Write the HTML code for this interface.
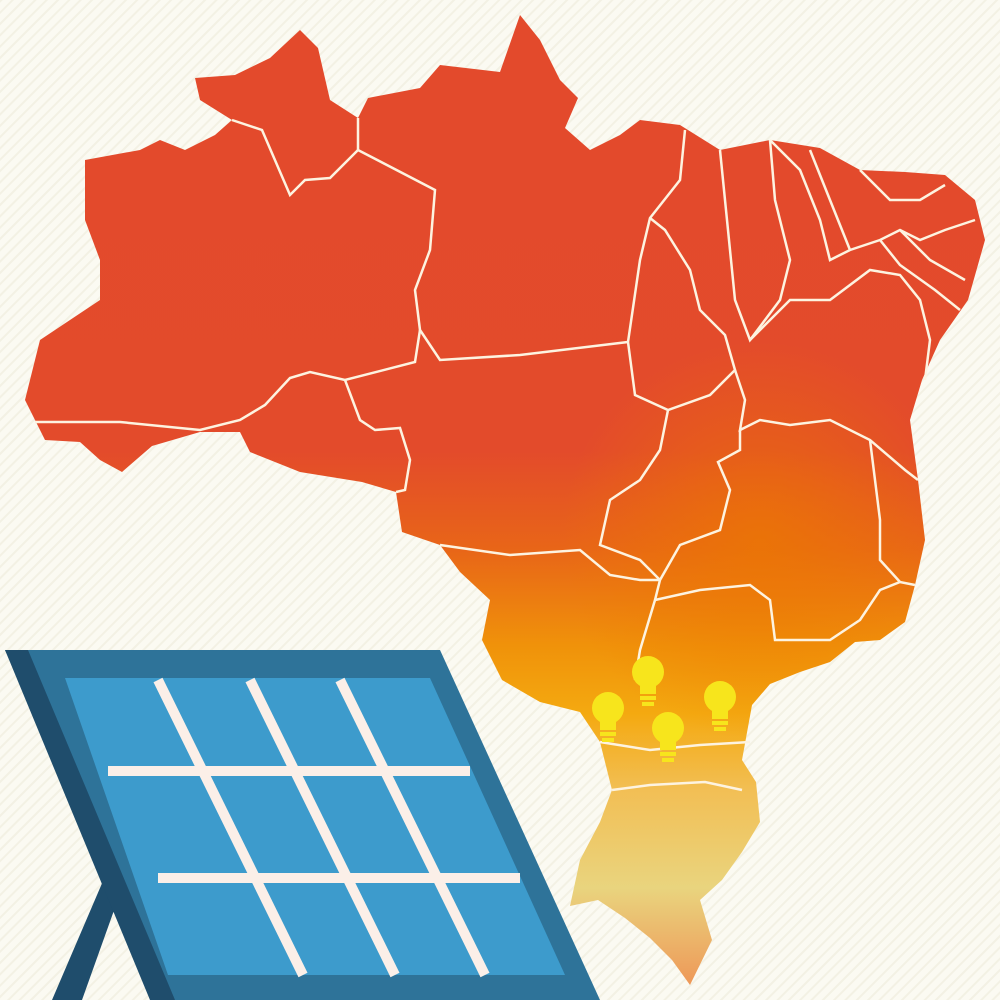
<!DOCTYPE html>
<html><head><meta charset="utf-8"><style>
html,body{margin:0;padding:0;width:1000px;height:1000px;overflow:hidden;background:#fbfaf2}
</style></head><body>
<svg width="1000" height="1000" viewBox="0 0 1000 1000">
<defs>
<pattern id="stripes" width="8" height="8" patternUnits="userSpaceOnUse" patternTransform="rotate(45)">
<rect width="8" height="8" fill="#fbfaf2"/><rect width="2" height="8" fill="#f3f1e4"/></pattern>
<linearGradient id="heat" x1="0" y1="0" x2="0" y2="1">
<stop offset="0" stop-color="#e34a2c"/><stop offset="0.45" stop-color="#e34b2b"/>
<stop offset="0.55" stop-color="#e86518"/><stop offset="0.65" stop-color="#f0920a"/>
<stop offset="0.72" stop-color="#f4a910"/><stop offset="0.8" stop-color="#f2bf55"/>
<stop offset="0.9" stop-color="#e9d47e"/><stop offset="1" stop-color="#ee9858"/></linearGradient>
<radialGradient id="glow" cx="760" cy="540" r="200" gradientUnits="userSpaceOnUse">
<stop offset="0" stop-color="#ec7a00" stop-opacity="0.7"/><stop offset="1" stop-color="#ec7a00" stop-opacity="0"/></radialGradient>
</defs>
<rect width="1000" height="1000" fill="url(#stripes)"/>
<g>
<path id="br" d="M85,160 L140,150 L160,140 L185,150 L215,135 L232,120 L200,100 L195,78 L235,75 L270,58 L300,30 L318,48 L330,100 L358,118 L368,98 L420,88 L440,65 L500,72 L520,15 L540,40 L560,80 L578,98 L565,128 L590,150 L620,135 L640,120 L680,125 L720,150 L770,140 L820,148 L860,170 L905,172 L945,175 L975,200 L985,240 L968,300 L940,340 L922,380 L910,420 L918,480 L925,540 L915,585 L905,622 L880,640 L855,642 L830,662 L800,672 L770,684 L752,705 L742,760 L756,782 L760,822 L742,852 L722,880 L700,900 L712,940 L690,985 L672,960 L650,938 L625,918 L598,900 L570,906 L580,860 L600,822 L612,790 L600,742 L580,712 L540,702 L502,680 L482,640 L490,600 L460,572 L440,545 L402,532 L396,492 L362,482 L300,472 L250,452 L240,432 L200,432 L152,446 L122,472 L100,460 L80,442 L45,440 L25,400 L40,340 L70,320 L100,300 L100,260 L85,220 Z" fill="url(#heat)"/>
<path d="M85,160 L140,150 L160,140 L185,150 L215,135 L232,120 L200,100 L195,78 L235,75 L270,58 L300,30 L318,48 L330,100 L358,118 L368,98 L420,88 L440,65 L500,72 L520,15 L540,40 L560,80 L578,98 L565,128 L590,150 L620,135 L640,120 L680,125 L720,150 L770,140 L820,148 L860,170 L905,172 L945,175 L975,200 L985,240 L968,300 L940,340 L922,380 L910,420 L918,480 L925,540 L915,585 L905,622 L880,640 L855,642 L830,662 L800,672 L770,684 L752,705 L742,760 L756,782 L760,822 L742,852 L722,880 L700,900 L712,940 L690,985 L672,960 L650,938 L625,918 L598,900 L570,906 L580,860 L600,822 L612,790 L600,742 L580,712 L540,702 L502,680 L482,640 L490,600 L460,572 L440,545 L402,532 L396,492 L362,482 L300,472 L250,452 L240,432 L200,432 L152,446 L122,472 L100,460 L80,442 L45,440 L25,400 L40,340 L70,320 L100,300 L100,260 L85,220 Z" fill="url(#glow)"/>
<g fill="none" stroke="#fdf3e0" stroke-width="2.5">
<path d="M232,120 L262,130 L290,195 L305,180 L330,178 L358,150 L435,190 L430,250 L415,290 L420,330 L440,360 L520,355 L628,342"/>
<path d="M358,118 L358,150"/>
<path d="M35,422 L120,422 L200,430 L240,420 L265,405 L290,378 L310,372 L345,380 L415,362 L420,330"/>
<path d="M345,380 L360,420 L375,430 L400,428 L410,460 L405,490 L396,492"/>
<path d="M628,342 L640,260 L650,218 L680,180 L685,130"/>
<path d="M650,218 L665,230 L690,270 L700,310 L725,335 L735,370 L710,395 L668,410 L635,395 L628,342"/>
<path d="M720,150 L730,250 L735,300 L750,340 L780,300 L790,260 L775,200 L770,140"/>
<path d="M770,140 L800,170 L820,220 L830,260 L850,250 L880,240 L900,230 L920,240 L945,230 L975,220"/>
<path d="M810,150 L830,200 L850,250 M860,170 L890,200 L920,200 L945,185 M900,230 L930,260 L965,280 M880,240 L900,265 L935,290 L960,310"/>
<path d="M750,340 L790,300 L830,300 L870,270 L900,275 L920,300 L930,340 L925,380"/>
<path d="M735,370 L745,400 L740,430 L760,420 L790,425 L830,420 L870,440 L905,470 L918,480"/>
<path d="M668,410 L660,450 L640,480 L610,500 L600,545 L640,560 L660,580"/>
<path d="M740,430 L740,450 L718,462 L730,490 L720,530 L680,545 L660,580 L655,600 L640,650 L635,680"/>
<path d="M440,545 L510,555 L580,550 L610,575 L640,580 L660,580"/>
<path d="M655,600 L700,590 L750,585 L770,600 L775,640 L830,640 L860,620 L880,590 L900,582 L915,585"/>
<path d="M870,440 L880,520 L880,560 L900,582"/>
<path d="M600,742 L650,750 L700,745 L750,742 M612,790 L650,785 L705,782 L742,790"/>
</g>
</g>
<g>
<path d="M112,860 L132,860 L82,1000 L52,1000 Z" fill="#1f4d6c"/>
<polygon points="5,650 440,650 600,1000 160,1000" fill="#2e7399"/>
<polygon points="5,650 28,650 175,1000 150,1000" fill="#1f4d6c"/>
<polygon points="65,678 430,678 565,975 168,975" fill="#3d9bcc"/>
<g stroke="#fbefe8" stroke-width="10" stroke-linecap="butt">
<line x1="108" y1="771" x2="470" y2="771"/>
<line x1="158" y1="878" x2="520" y2="878"/>
<line x1="158" y1="680" x2="303" y2="975"/>
<line x1="250" y1="680" x2="395" y2="975"/>
<line x1="340" y1="680" x2="485" y2="975"/>
</g>
</g>
<g fill="#f7e51c">
<g transform="translate(648,672)"><circle r="16"/><rect x="-8" y="12" width="16" height="10"/><rect x="-8" y="24" width="16" height="4"/><rect x="-6" y="30" width="12" height="4"/></g>
<g transform="translate(608,708)"><circle r="16"/><rect x="-8" y="12" width="16" height="10"/><rect x="-8" y="24" width="16" height="4"/><rect x="-6" y="30" width="12" height="4"/></g>
<g transform="translate(720,697)"><circle r="16"/><rect x="-8" y="12" width="16" height="10"/><rect x="-8" y="24" width="16" height="4"/><rect x="-6" y="30" width="12" height="4"/></g>
<g transform="translate(668,728)"><circle r="16"/><rect x="-8" y="12" width="16" height="10"/><rect x="-8" y="24" width="16" height="4"/><rect x="-6" y="30" width="12" height="4"/></g>
</g>
</svg>
</body></html>
